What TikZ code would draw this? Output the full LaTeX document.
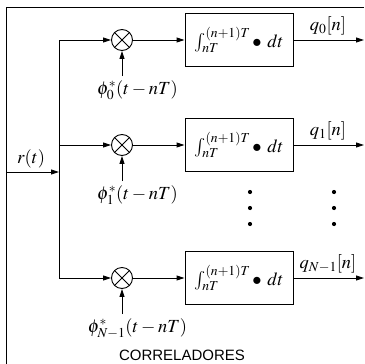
\documentclass[tikz,border=0pt]{standalone}
\usepackage{mathptmx}
\usepackage[no-math]{fontspec}
\newfontfamily\sansf{Liberation Sans}
\usetikzlibrary{arrows.meta}
\begin{document}
\begin{tikzpicture}[x=1pt,y=-1pt, line width=0.9pt,
  >={Triangle[length=8pt,width=5pt]},
  mathlbl/.style={font=\fontsize{18.5}{21}\selectfont, inner sep=0pt},
  mult/.style={circle, draw, minimum size=21pt, inner sep=0pt},
  intbox/.style={draw, minimum width=108pt, minimum height=53pt, inner sep=0pt, font=\fontsize{18.5}{21}\selectfont},
  dotmark/.style={circle, fill, inner sep=0pt, minimum size=4.2pt}]
\useasboundingbox (0,0) rectangle (364,364);
% frame
\draw (364,7) -- (6,7) -- (6,364);
% input
\coordinate (rin) at (6,172);
\coordinate (rj) at (59,172);
\coordinate (b0) at (59,40);
\coordinate (b1) at (59,145);
\coordinate (b2) at (59,278);
\draw (b0) -- (b2);
\draw[->] (rin) -- (rj);
\node[mathlbl, anchor=base] (rl) at (31,163) {$r(t)$};
% rows
\foreach \i/\r/\lab/\q in {0/40/0/0, 1/145/1/1, 2/278/{N-1}/{N-1}} {
  \node[mult] (m\i) at (122,\r) {};
  \draw (m\i.north west) -- (m\i.south east);
  \draw (m\i.north east) -- (m\i.south west);
  \draw[->] (b\i) -- (m\i.west);
  \node[intbox] (i\i) at (239,\r) {$\int_{nT}^{(n+1)T} \bullet\ dt$};
  \draw[->] (m\i.east) -- (i\i.west);
  \coordinate (o\i) at (364,\r);
  \draw[->] (i\i.east) -- (o\i);
  \node[mathlbl] (ql\i) at (328,\r-14) {$q_{\q}[n]$};
  \coordinate (p\i) at (122,\r+36);
  \draw[->] (p\i) -- (m\i.south);
  \node[mathlbl, anchor=base] (pl\i) at (137.5,\r+54) {$\phi_{\lab}^{*}(t-nT)$};
}
% dots
\foreach \y [count=\k] in {192,208,224} {
  \node[dotmark] (da\k) at (250,\y) {};
  \node[dotmark] (db\k) at (334,\y) {};
}
\node[font=\sansf\fontsize{15}{17}\selectfont, inner sep=0pt] (cap) at (182,355) {CORRELADORES};
\end{tikzpicture}
\end{document}
